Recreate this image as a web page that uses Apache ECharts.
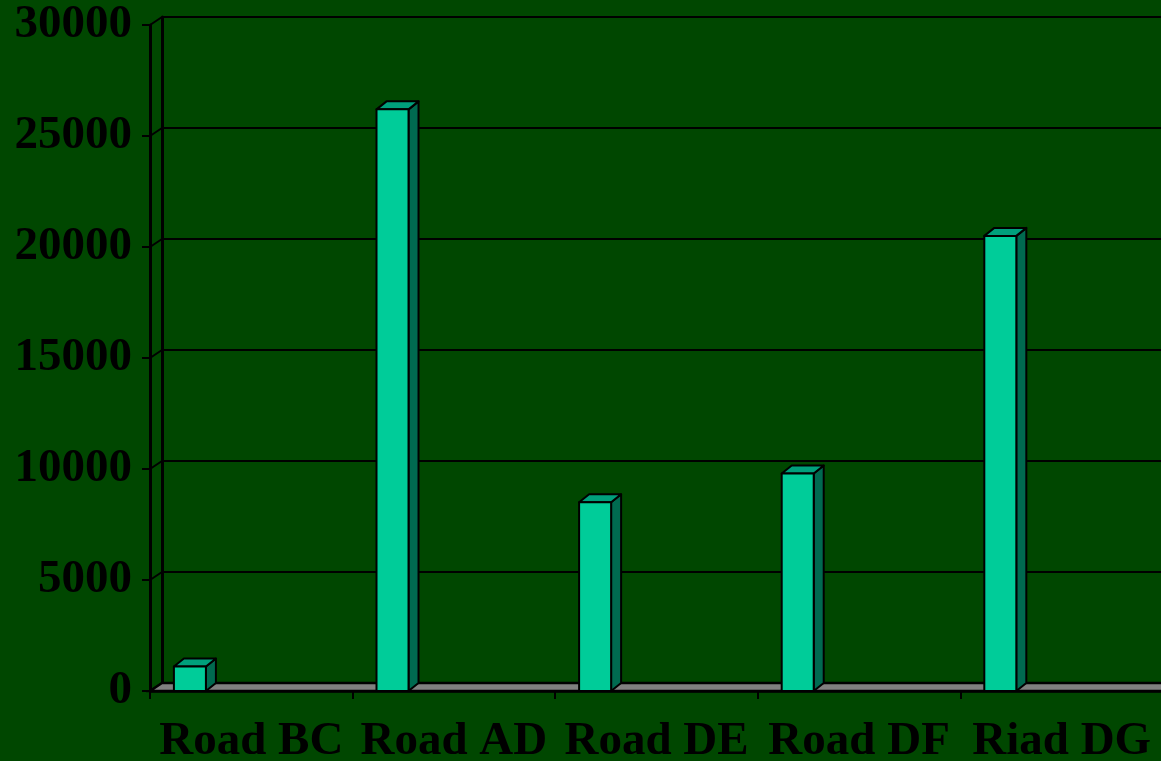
<!DOCTYPE html>
<html>
<head>
<meta charset="utf-8">
<script src="https://cdn.jsdelivr.net/npm/echarts@6/dist/echarts.min.js"></script>
<style>
  html, body { margin: 0; padding: 0; background: #004700; }
  #chart { width: 1161px; height: 761px; }
</style>
</head>
<body>
<div id="chart"></div>
<script>
// Traffic volume per road
const categories = ['Road BC', 'Road AD', 'Road DE', 'Road DF', 'Riad DG'];
const volumes = [1100, 26200, 8500, 9800, 20500];
const yTicks = [0, 5000, 10000, 15000, 20000, 25000, 30000];

// 3D look: depth offsets for the bars and for the walls
const BAR_DX = 10, BAR_DY = 8;
const WALL_DX = 12, WALL_DY = 8;

const BG = '#004700';
const FRONT = '#00cc99';
const TOP = '#00a07c';
const SIDE = '#006a50';
const FLOOR = '#808080';
const INK = '#000000';
const FONT = 'Liberation Serif';

const chart = echarts.init(document.getElementById('chart'));

// Floor slab and side-wall level lines, drawn relative to the front grid
function renderFrame(params, api) {
  const cs = params.coordSys;
  const left = cs.x, right = cs.x + cs.width;
  const children = [];
  // side wall lines from each front tick to the back wall
  yTicks.forEach(function (v) {
    const y = api.coord([0, v])[1];
    children.push({
      type: 'line',
      shape: { x1: left, y1: y, x2: left + WALL_DX, y2: y - WALL_DY },
      style: { stroke: INK, lineWidth: 2 }
    });
  });
  const y0 = api.coord([0, 0])[1];
  children.push({
    type: 'polygon',
    shape: { points: [[left, y0], [right + 20, y0], [right + 20 + WALL_DX, y0 - WALL_DY], [left + WALL_DX, y0 - WALL_DY]] },
    style: { fill: FLOOR, stroke: INK, lineWidth: 2.5 }
  });
  return { type: 'group', children: children };
}

function renderBar(params, api) {
  const idx = api.value(0);
  const val = api.value(1);
  const band = api.size([1, 0])[0];
  const center = api.coord([idx, 0])[0];
  const x0 = center - band / 2 + band * 0.118;
  const w = band * 0.158;
  const yb = api.coord([idx, 0])[1];
  const yt = api.coord([idx, val])[1];
  const stroke = { stroke: INK, lineWidth: 2, lineJoin: 'round' };
  return {
    type: 'group',
    children: [
      {
        type: 'polygon',
        shape: { points: [[x0 + w, yt], [x0 + w + BAR_DX, yt - BAR_DY], [x0 + w + BAR_DX, yb - BAR_DY], [x0 + w, yb]] },
        style: Object.assign({ fill: SIDE }, stroke)
      },
      {
        type: 'polygon',
        shape: { points: [[x0, yt], [x0 + BAR_DX, yt - BAR_DY], [x0 + w + BAR_DX, yt - BAR_DY], [x0 + w, yt]] },
        style: Object.assign({ fill: TOP }, stroke)
      },
      {
        type: 'rect',
        shape: { x: x0, y: yt, width: w, height: yb - yt },
        style: Object.assign({ fill: FRONT }, stroke)
      }
    ]
  };
}

chart.setOption({
  backgroundColor: BG,
  animation: false,
  grid: [
    { left: 150, top: 25, width: 1013, height: 666, containLabel: false, outerBoundsMode: 'none' },
    { left: 150 + WALL_DX, top: 25 - WALL_DY, width: 1013, height: 666, containLabel: false, outerBoundsMode: 'none' }
  ],
  xAxis: [
    {
      type: 'category',
      gridIndex: 0,
      data: categories,
      boundaryGap: true,
      axisLine: { lineStyle: { color: INK, width: 2.5 } },
      axisTick: { show: true, length: 8, lineStyle: { color: INK, width: 2 } },
      axisLabel: {
        color: INK, fontFamily: FONT, fontWeight: 'bold', fontSize: 47,
        margin: 27, interval: 0
      },
      z: 5
    },
    {
      type: 'category',
      gridIndex: 1,
      data: categories,
      show: false
    }
  ],
  yAxis: [
    {
      type: 'value',
      gridIndex: 0,
      min: 0, max: 30000, interval: 5000,
      axisLine: { show: true, lineStyle: { color: INK, width: 3 } },
      axisTick: { show: true, length: 8, lineStyle: { color: INK, width: 2 } },
      axisLabel: {
        color: INK, fontFamily: FONT, fontWeight: 'bold', fontSize: 47, margin: 18,
        formatter: function (v) { return String(v); }
      },
      splitLine: { show: false }
    },
    {
      type: 'value',
      gridIndex: 1,
      min: 0, max: 30000, interval: 5000,
      axisLine: { show: true, lineStyle: { color: INK, width: 3 } },
      axisTick: { show: false },
      axisLabel: { show: false },
      splitLine: { show: true, lineStyle: { color: INK, width: 2 } }
    }
  ],
  series: [
    {
      type: 'custom',
      name: 'frame',
      xAxisIndex: 0, yAxisIndex: 0,
      renderItem: renderFrame,
      data: [[0, 0]],
      clip: false,
      silent: true,
      z: 1
    },
    {
      type: 'custom',
      name: 'Traffic',
      xAxisIndex: 0, yAxisIndex: 0,
      renderItem: renderBar,
      data: volumes.map(function (v, i) { return [i, v]; }),
      clip: false,
      z: 3
    }
  ]
});
</script>
</body>
</html>
